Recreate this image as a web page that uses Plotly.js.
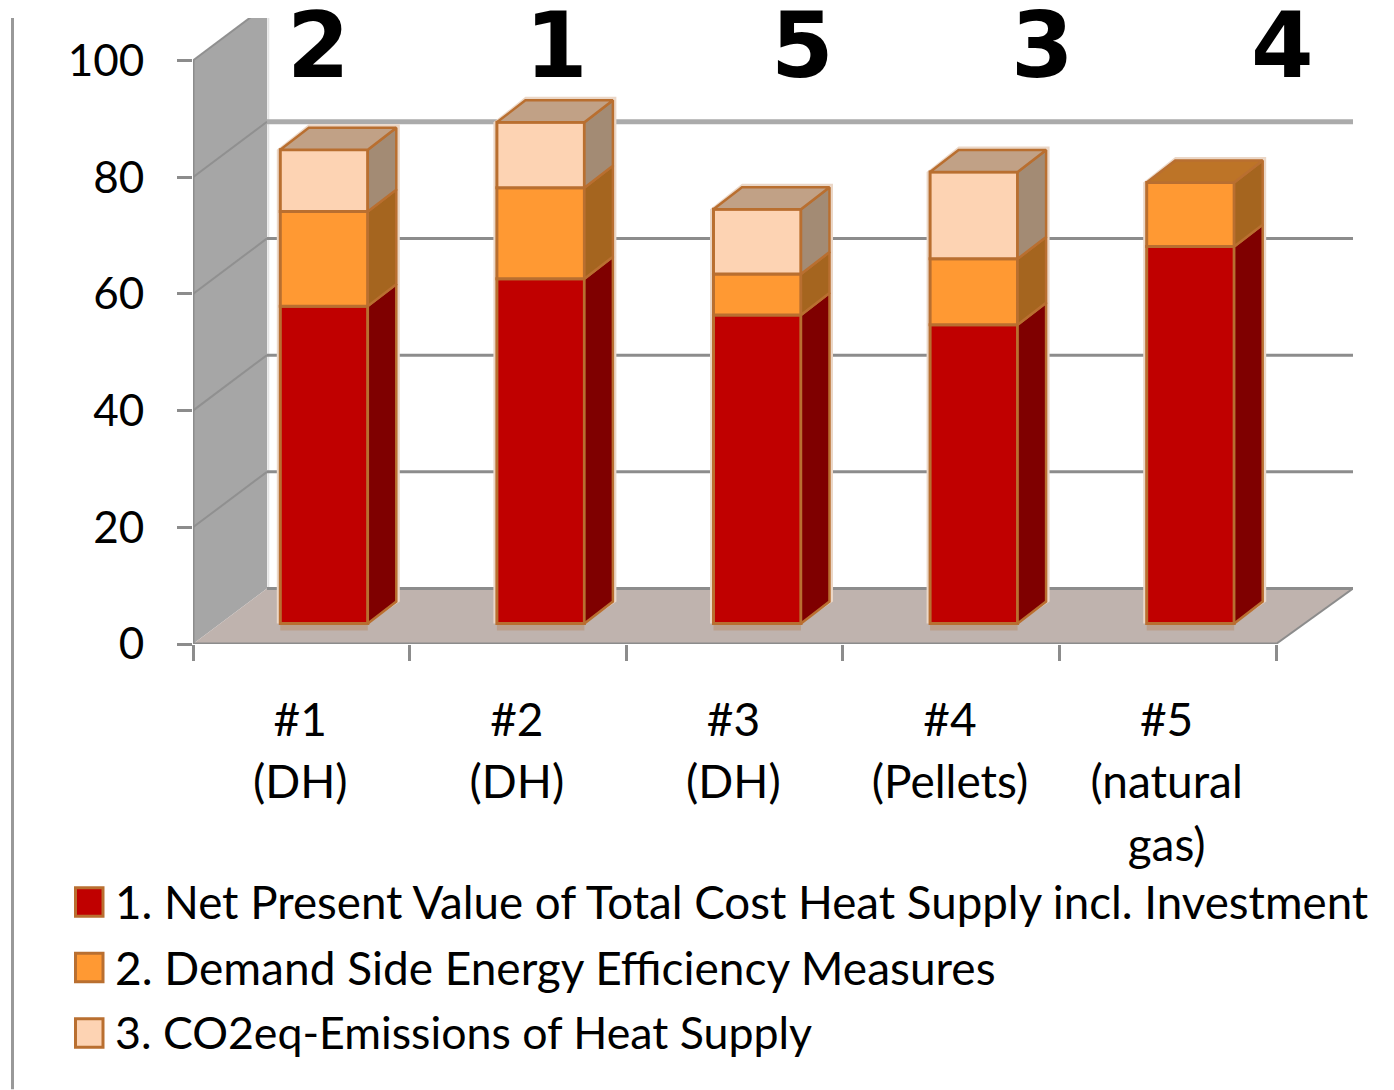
<!DOCTYPE html>
<html><head><meta charset="utf-8">
<script src="https://cdn.plot.ly/plotly-3.0.1.min.js"></script>
<style>html,body{margin:0;padding:0;background:#fff}#c{width:1394px;height:1090px}</style>
</head><body><div id="c"></div>
<script>
// ---- data ----
const categories = ['#1<br>(DH)', '#2<br>(DH)', '#3<br>(DH)', '#4<br>(Pellets)', '#5<br>(natural<br>gas)'];
const ranks = ['2', '1', '5', '3', '4'];
const seriesNames = [
  '1. Net Present Value of Total Cost Heat Supply incl. Investment',
  '2. Demand Side Energy Efficiency Measures',
  '3. CO2eq-Emissions of Heat Supply'
];
const netPresentValue = [54.4, 59.1, 52.9, 51.2, 64.6];
const efficiency = [16.2, 15.6, 7.0, 11.3, 11.0];
const emissions = [10.6, 11.2, 11.1, 14.9, 0];
const yTicks = [0, 20, 40, 60, 80, 100];

// ---- styling ----
const seriesValues = [netPresentValue, efficiency, emissions];
const frontColors = ['#C00000', '#FF9933', '#FDD3B3'];
const sideColors = ['#7F0000', '#A5651F', '#A38B74'];
const topColors = ['#8E2A10', '#BD7427', '#C1A186'];
const edge = '#B96F30', gridC = '#8C8C8C', halo = '#EBD7C7';
const FAM = 'Lato, sans-serif';

// ---- pixel frame of the plot ----
const L = 193, R = 1353, T = 18, B = 644.5, W = 1394, H = 1090;
const pxPerX = 216.6, pxPerY = 5.84;
const wallDX = 74 / pxPerX, wallDXR = 77 / pxPerX, wallDY = 55.5 / pxPerY;
const barW = 87.5 / pxPerX, barShift = 0.105, floorY = 3.5;
const depthX = 28.5 / pxPerX, depthY = 22 / pxPerY;
const px = v => (v - L) / (R - L), py = v => (B - v) / (B - T);
const yMax = (B - T) / pxPerY, xMax = (R - L) / pxPerX;

const centers = categories.map((_, i) => i + 0.5 + barShift);
const traces = [];
const cum = categories.map(() => floorY);
const polyX = seriesValues.map(() => []), polyY = seriesValues.map(() => []);
const topX = seriesValues.map(() => []), topY = seriesValues.map(() => []);

seriesValues.forEach((vals, s) => {
  const bases = cum.slice();
  traces.push({
    type: 'bar', name: seriesNames[s], x: centers, y: vals, base: bases, width: barW,
    marker: {color: frontColors[s], line: {color: edge, width: 3}}, showlegend: false
  });
  vals.forEach((v, i) => {
    const xr = centers[i] + barW / 2, y0 = cum[i], y1 = cum[i] + v;
    if (v > 0) {
      polyX[s].push(xr, xr + depthX, xr + depthX, xr, xr, null);
      polyY[s].push(y0, y0 + depthY, y1 + depthY, y1, y0, null);
    }
    cum[i] = y1;
  });
});
categories.forEach((_, i) => {
  let s = seriesValues.length - 1;
  while (s > 0 && seriesValues[s][i] === 0) s--;
  const xl = centers[i] - barW / 2, xr = centers[i] + barW / 2, y = cum[i];
  topX[s].push(xl, xl + depthX, xr + depthX, xr, xl, null);
  topY[s].push(y, y + depthY, y + depthY, y, y, null);
});
seriesValues.forEach((_, s) => {
  traces.push({type: 'scatter', mode: 'lines', x: polyX[s], y: polyY[s], fill: 'toself',
    fillcolor: sideColors[s], line: {color: edge, width: 2.5}, hoverinfo: 'skip', showlegend: false});
  if (topX[s].length) traces.push({type: 'scatter', mode: 'lines', x: topX[s], y: topY[s], fill: 'toself',
    fillcolor: topColors[s], line: {color: edge, width: 2.5}, hoverinfo: 'skip', showlegend: false});
});

// ---- walls, floor, gridlines ----
const poly = (pts, fill, line) => ({type: 'path', layer: 'below', xref: 'x', yref: 'y',
  path: 'M' + pts.map(p => p.join(',')).join('L') + 'Z', fillcolor: fill, line: line || {width: 0}});
const seg = (x0, y0, x1, y1, color, width) => ({type: 'line', layer: 'below', xref: 'x', yref: 'y',
  x0, y0, x1, y1, line: {color, width}});
const shapes = [
  poly([[0, 100], [wallDX, 100 + wallDY], [wallDX, wallDY], [0, 0]], '#A6A6A6'),
  poly([[0, 0], [5, 0], [5 + wallDXR, wallDY], [wallDX, wallDY]], '#BFB3AE'),
  seg(wallDX + 0.006, wallDY, wallDX + 0.006, 100 + wallDY, '#E4E4E4', 2)
];
yTicks.forEach(t => {
  if (t > 0) shapes.push(seg(0, t, wallDX, t + wallDY, '#909090', 2));
  if (t < 100) shapes.push(seg(wallDX, t + wallDY, 5 + wallDXR, t + wallDY,
    t === 80 ? '#ABABAB' : gridC, t === 80 ? 5 : 3));
});
shapes.push(seg(0, 0, 0, 100, gridC, 3), seg(0, 0, 5, 0, gridC, 3), seg(5, 0, 5 + wallDXR, wallDY, gridC, 2));
const hx = 3.5 / pxPerX, hy = 3.5 / pxPerY;
centers.forEach((c, i) => {
  const xl = c - barW / 2, xr = c + barW / 2, top = cum[i];
  shapes.push(poly([[xl - hx, floorY], [xl - hx, top], [xl + depthX, top + depthY + hy],
    [xr + depthX + hx, top + depthY + hy], [xr + depthX + hx, floorY + depthY], [xr, floorY]], halo));
  shapes.push({type: 'rect', layer: 'below', xref: 'x', yref: 'y',
    x0: xl, x1: xr, y0: floorY - 7 / pxPerY, y1: floorY, fillcolor: '#BCA08C', line: {width: 0}});
});

// left rule, paper coordinates in pixels
shapes.push({type: 'line', xref: 'paper', yref: 'paper', x0: px(12.5), x1: px(12.5),
  y0: py(T), y1: py(H), line: {color: '#999999', width: 3}});

// ---- legend and rank numbers ----
const annotations = [];
const legendTop = [888.5, 954, 1019.5], legendText = [902, 968, 1033], legendSize = [45.7, 46, 44.7];
seriesNames.forEach((n, s) => {
  shapes.push({type: 'rect', xref: 'paper', yref: 'paper', x0: px(75.5), x1: px(103),
    y0: py(legendTop[s] + 28.5), y1: py(legendTop[s]), fillcolor: frontColors[s], line: {color: edge, width: 3}});
  annotations.push({xref: 'paper', yref: 'paper', x: px(113), y: py(legendText[s]), xanchor: 'left', yanchor: 'middle',
    text: n, showarrow: false, font: {family: FAM, size: legendSize[s], color: '#000'}});
});
const rankX = [318, 556, 802, 1042, 1282];
ranks.forEach((r, i) => annotations.push({xref: 'paper', yref: 'paper', x: px(rankX[i]), y: py(46),
  xanchor: 'center', yanchor: 'middle', text: '<b>' + r + '</b>', showarrow: false,
  font: {family: '"DejaVu Sans", sans-serif', size: 90, color: '#000'}}));

Plotly.newPlot('c', traces, {
  width: W, height: H, autosize: false, paper_bgcolor: '#fff', plot_bgcolor: 'rgba(0,0,0,0)',
  margin: {l: L, r: W - R, t: T, b: H - B, pad: 0},
  barmode: 'overlay', showlegend: false, hovermode: false,
  xaxis: {
    type: 'linear', range: [0, xMax], showgrid: false, zeroline: false, showline: false, fixedrange: true,
    tickmode: 'array', tickvals: categories.map((_, i) => i + 0.495),
    ticktext: categories.map(c => c.split('<br>').map(l => '<span style="font-size:46px">' + l + '</span>').join('<br>')),
    tickfont: {family: FAM, size: 48, color: '#000'}, ticks: '', ticklabelstandoff: 43, tickangle: 0,
    minor: {tickmode: 'array', tickvals: [0, 1, 2, 3, 4, 5], ticks: 'outside', ticklen: 16, tickwidth: 3, tickcolor: gridC, showgrid: false}
  },
  yaxis: {
    type: 'linear', range: [0, yMax], showgrid: false, zeroline: false, showline: false, fixedrange: true,
    tickmode: 'array', tickvals: yTicks, ticks: 'outside', ticklen: 15, tickwidth: 3, tickcolor: gridC,
    tickfont: {family: FAM, size: 44, color: '#000'}, ticklabelstandoff: 24
  },
  shapes, annotations
}, {staticPlot: true, displayModeBar: false});
</script></body></html>
